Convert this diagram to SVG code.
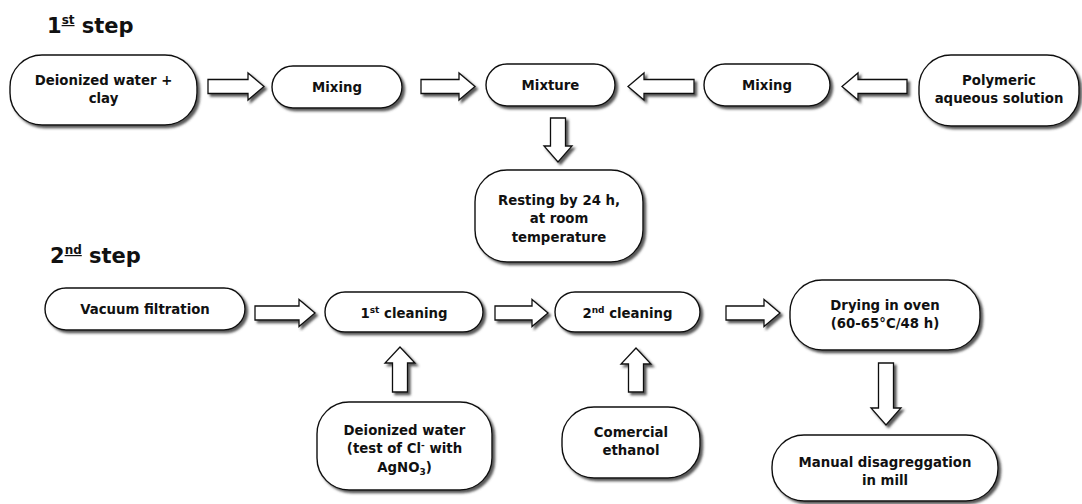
<svg xmlns="http://www.w3.org/2000/svg" width="1082" height="504" viewBox="0 0 1082 504">
<style>
.box{fill:#fff;stroke:#111;stroke-width:1.4;filter:url(#sh)}
.arr{fill:#fff;stroke:#111;stroke-width:1.3;filter:url(#sh)}
text{font-family:"DejaVu Sans","Liberation Sans",sans-serif;font-weight:bold;fill:#111}
.t{font-size:13.3px;text-anchor:middle}
.h{font-size:21px}
</style>
<defs>
<filter id="sh" x="-20%" y="-20%" width="140%" height="140%">
<feDropShadow dx="2.5" dy="2.5" stdDeviation="0.8" flood-color="#444" flood-opacity="0.9"/>
</filter>
</defs>
<rect width="1082" height="504" fill="#fff"/>
<text class="h" x="47" y="33">1<tspan font-size="12" dy="-9" text-decoration="underline">st</tspan><tspan dy="9"> step</tspan></text>
<text class="h" x="50" y="263">2<tspan font-size="12" dy="-9" text-decoration="underline">nd</tspan><tspan dy="9"> step</tspan></text>

<g id="connectors">
<path class="arr" d="M208,79.5 H248 V73 L264,86.5 L248,100 V93.5 H208 Z"/>
<path class="arr" d="M421,79.5 H459 V73 L475,86.5 L459,100 V93.5 H421 Z"/>
<path class="arr" d="M694,79.5 H644 V73 L628,86.5 L644,100 V93.5 H694 Z"/>
<path class="arr" d="M907,79.5 H858 V73 L842,86.5 L858,100 V93.5 H907 Z"/>
<path class="arr" d="M550.5,118 V146 H544 L558,162 L572,146 H565.5 V118 Z"/>
<path class="arr" d="M255,306 H299 V299.5 L315,313 L299,326.5 V320 H255 Z"/>
<path class="arr" d="M495,306 H532 V299.5 L548,313 L532,326.5 V320 H495 Z"/>
<path class="arr" d="M726,306 H764 V299.5 L780,313 L764,326.5 V320 H726 Z"/>
<path class="arr" d="M878.5,363 V408 H871 L886,425 L901,408 H893.5 V363 Z"/>
<path class="arr" d="M392.5,392 V363 H385 L400,347 L415,363 H407.5 V392 Z"/>
<path class="arr" d="M628.5,392 V364 H621 L636,348 L651,364 H643.5 V392 Z"/>
</g>

<g id="n1"><rect class="box" x="10" y="55" width="187" height="70" rx="32" ry="32"/>
<text class="t" x="103.5" y="85">Deionized water +</text><text class="t" x="103.5" y="103">clay</text></g>
<g id="n2"><rect class="box" x="272" y="66" width="130" height="42" rx="21" ry="21"/>
<text class="t" x="337" y="91.5">Mixing</text></g>
<g id="n3"><rect class="box" x="486" y="64" width="129" height="42" rx="21" ry="21"/>
<text class="t" x="550.5" y="90">Mixture</text></g>
<g id="n4"><rect class="box" x="704" y="64" width="126" height="42" rx="21" ry="21"/>
<text class="t" x="767" y="90">Mixing</text></g>
<g id="n5"><rect class="box" x="919" y="55" width="160" height="71" rx="32" ry="32"/>
<text class="t" x="999" y="85">Polymeric</text><text class="t" x="999" y="103">aqueous solution</text></g>
<g id="n6"><rect class="box" x="475" y="170" width="168" height="92" rx="32" ry="32"/>
<text class="t" x="559" y="205">Resting by 24 h,</text><text class="t" x="559" y="223">at room</text><text class="t" x="559" y="242">temperature</text></g>
<g id="n7"><rect class="box" x="45" y="288" width="200" height="42" rx="21" ry="21"/>
<text class="t" x="145" y="314">Vacuum filtration</text></g>
<g id="n8"><rect class="box" x="325" y="292" width="158" height="40" rx="20" ry="20"/>
<text class="t" x="404" y="318">1<tspan font-size="9" dy="-5">st</tspan><tspan dy="5"> cleaning</tspan></text></g>
<g id="n9"><rect class="box" x="555" y="292" width="145" height="40" rx="20" ry="20"/>
<text class="t" x="627.5" y="318">2<tspan font-size="9" dy="-5">nd</tspan><tspan dy="5"> cleaning</tspan></text></g>
<g id="n10"><rect class="box" x="790" y="280" width="190" height="70" rx="32" ry="32"/>
<text class="t" x="885" y="310">Drying in oven</text><text class="t" x="885" y="328">(60-65°C/48 h)</text></g>
<g id="n11"><rect class="box" x="772" y="435" width="226" height="66" rx="32" ry="32"/>
<text class="t" x="885" y="467">Manual disagreggation</text><text class="t" x="885" y="485">in mill</text></g>
<g id="n12"><rect class="box" x="317" y="402" width="175" height="88" rx="32" ry="32"/>
<text class="t" x="404.5" y="435">Deionized water</text><text class="t" x="404.5" y="453">(test of Cl<tspan font-size="9" dy="-5">-</tspan><tspan dy="5"> with</tspan></text><text class="t" x="404.5" y="472">AgNO<tspan font-size="9" dy="3">3</tspan><tspan dy="-3">)</tspan></text></g>
<g id="n13"><rect class="box" x="562" y="407" width="138" height="71" rx="32" ry="32"/>
<text class="t" x="631" y="437">Comercial</text><text class="t" x="631" y="455">ethanol</text></g>
</svg>
